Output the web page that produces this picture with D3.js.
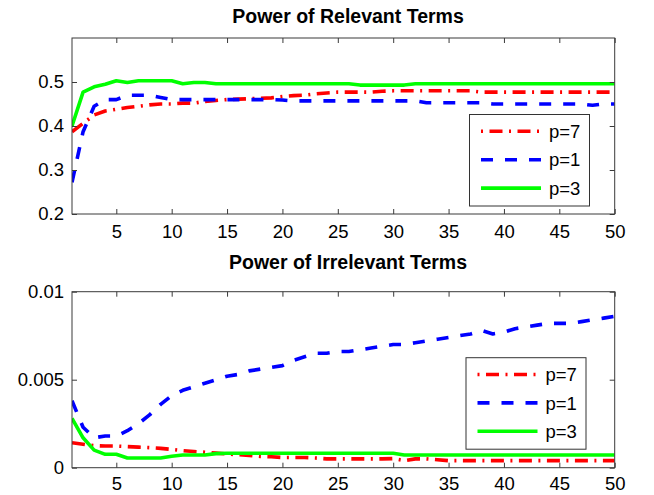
<!DOCTYPE html>
<html>
<head>
<meta charset="utf-8">
<script src="https://cdn.jsdelivr.net/npm/d3@7"></script>
<style>
  body { margin: 0; background: #fff; }
  svg { display: block; font-family: "Liberation Sans", Arial, sans-serif; }
</style>
</head>
<body>
<div id="vis"></div>
<script>
/*
Data
*/

// iteration index on the x axis
const iterations = d3.range(1, 51);

const xTicks = [5, 10, 15, 20, 25, 30, 35, 40, 45, 50];
const relevantTicks = [0.2, 0.3, 0.4, 0.5];
const irrelevantTicks = [0, 0.005, 0.01];

const seriesNames = ["p=7", "p=1", "p=3"];

// Power of relevant terms
const relevantP7 = [0.387, 0.406, 0.425, 0.434, 0.438, 0.442, 0.445, 0.448, 0.450, 0.450,
                    0.452, 0.452, 0.456, 0.458, 0.460, 0.461, 0.462, 0.463, 0.464, 0.467,
                    0.469, 0.470, 0.473, 0.475, 0.477, 0.477, 0.477, 0.477, 0.479, 0.480,
                    0.480, 0.480, 0.480, 0.480, 0.480, 0.480, 0.480, 0.477, 0.477, 0.477,
                    0.477, 0.477, 0.477, 0.477, 0.477, 0.477, 0.477, 0.477, 0.477, 0.477];
const relevantP1 = [0.272, 0.387, 0.445, 0.460, 0.460, 0.470, 0.470, 0.470, 0.465, 0.460,
                    0.460, 0.460, 0.460, 0.460, 0.460, 0.460, 0.460, 0.460, 0.460, 0.459,
                    0.457, 0.457, 0.457, 0.457, 0.457, 0.457, 0.457, 0.457, 0.457, 0.457,
                    0.457, 0.457, 0.453, 0.453, 0.453, 0.453, 0.453, 0.453, 0.450, 0.450,
                    0.450, 0.450, 0.450, 0.450, 0.450, 0.450, 0.450, 0.447, 0.450, 0.450];
const relevantP3 = [0.400, 0.477, 0.489, 0.495, 0.503, 0.499, 0.503, 0.503, 0.503, 0.503,
                    0.496, 0.499, 0.499, 0.496, 0.496, 0.496, 0.496, 0.496, 0.496, 0.496,
                    0.496, 0.496, 0.496, 0.496, 0.496, 0.496, 0.493, 0.493, 0.493, 0.493,
                    0.493, 0.496, 0.496, 0.496, 0.496, 0.496, 0.496, 0.496, 0.496, 0.496,
                    0.496, 0.496, 0.496, 0.496, 0.496, 0.496, 0.496, 0.496, 0.496, 0.496];

// Power of irrelevant terms
const irrelevantP7 = [0.00142, 0.00133, 0.00125, 0.00123, 0.00123, 0.00120, 0.00117, 0.00114, 0.00110, 0.00104,
                      0.00097, 0.00092, 0.00088, 0.00083, 0.00078, 0.00074, 0.00070, 0.00064, 0.00062, 0.00058,
                      0.00058, 0.00058, 0.00055, 0.00050, 0.00050, 0.00050, 0.00050, 0.00050, 0.00050, 0.00052,
                      0.00040, 0.00050, 0.00050, 0.00045, 0.00040, 0.00040, 0.00040, 0.00040, 0.00040, 0.00040,
                      0.00040, 0.00040, 0.00040, 0.00040, 0.00040, 0.00040, 0.00040, 0.00040, 0.00040, 0.00040];
const irrelevantP1 = [0.0038, 0.0023, 0.0017, 0.0018, 0.0018, 0.0021, 0.0025, 0.0030, 0.0036, 0.0041,
                      0.0044, 0.0046, 0.0048, 0.0050, 0.0052, 0.0053, 0.0055, 0.0056, 0.0057, 0.0058,
                      0.0061, 0.0063, 0.0065, 0.0065, 0.0066, 0.0066, 0.0067, 0.0068, 0.0069, 0.0070,
                      0.0070, 0.0071, 0.0072, 0.0073, 0.0074, 0.0075, 0.0076, 0.0078, 0.0076, 0.0077,
                      0.0079, 0.0080, 0.0081, 0.0082, 0.0082, 0.0082, 0.0083, 0.0084, 0.0085, 0.0086];
const irrelevantP3 = [0.0028, 0.0017, 0.0010, 0.00076, 0.00076, 0.00055, 0.00055, 0.00055, 0.00055, 0.00065,
                      0.00072, 0.00072, 0.00072, 0.00080, 0.00082, 0.00082, 0.00082, 0.00082, 0.00082, 0.00082,
                      0.00082, 0.00082, 0.00082, 0.00082, 0.00082, 0.00082, 0.00082, 0.00082, 0.00082, 0.00082,
                      0.00072, 0.00072, 0.00072, 0.00072, 0.00072, 0.00072, 0.00072, 0.00072, 0.00072, 0.00072,
                      0.00072, 0.00072, 0.00072, 0.00072, 0.00072, 0.00072, 0.00072, 0.00072, 0.00072, 0.00072];

/*
Size constants
*/

const WIDTH = 654;
const HEIGHT = 495;

const styles = {
    "p=7": {color: "#ff0000", dash: "13,6.5,2,6.5", legendOffset: 19.5},
    "p=1": {color: "#0000ff", dash: "12,12", legendOffset: 0},
    "p=3": {color: "#00ff00", dash: null, legendOffset: 0}
};

const svg = d3.select("#vis")
                .append("svg")
                .attr("width", WIDTH)
                .attr("height", HEIGHT);

svg.append("rect")
    .attr("width", WIDTH)
    .attr("height", HEIGHT)
    .attr("fill", "#fff");

// draws one MATLAB-like panel
function drawPanel(cfg) {
    const x = d3.scaleLinear().domain([1, 50]).range([72, 614.7]);
    const y = d3.scaleLinear().domain(cfg.yDomain).range([cfg.bottom, cfg.top]);

    const g = svg.append("g").attr("class", "panel");

    // lines, first series drawn first
    const line = d3.line()
                    .x((d, i) => x(iterations[i]))
                    .y(d => y(d));

    const clipId = "clip-" + cfg.id;
    g.append("clipPath").attr("id", clipId)
        .append("rect")
        .attr("x", x(1)).attr("y", cfg.top)
        .attr("width", x(50) - x(1)).attr("height", cfg.bottom - cfg.top);

    cfg.series.forEach((vals, k) => {
        const st = styles[seriesNames[k]];
        g.append("path")
            .attr("clip-path", `url(#${clipId})`)
            .attr("d", line(vals))
            .attr("fill", "none")
            .attr("stroke", st.color)
            .attr("stroke-width", 3.6)
            .attr("stroke-linejoin", "round")
            .attr("stroke-dasharray", st.dash);
    });

    // axes with inward ticks on all four sides
    const axisColor = "#3a3a3a";
    const bottomAxis = g.append("g")
        .attr("transform", `translate(0,${cfg.bottom})`)
        .call(d3.axisBottom(x).tickValues(xTicks).tickSizeInner(-5).tickSizeOuter(0).tickPadding(cfg.xPad));
    const topAxis = g.append("g")
        .attr("transform", `translate(0,${cfg.top})`)
        .call(d3.axisTop(x).tickValues(xTicks).tickSizeInner(-5).tickSizeOuter(0).tickFormat(""));
    const leftAxis = g.append("g")
        .attr("transform", `translate(${x(1)},0)`)
        .call(d3.axisLeft(y).tickValues(cfg.yTicks).tickSizeInner(-5).tickSizeOuter(0).tickPadding(8)
                .tickFormat(cfg.format));
    const rightAxis = g.append("g")
        .attr("transform", `translate(${x(50)},0)`)
        .call(d3.axisRight(y).tickValues(cfg.yTicks).tickSizeInner(-5).tickSizeOuter(0).tickFormat(""));

    [bottomAxis, topAxis, leftAxis, rightAxis].forEach(a => {
        a.select(".domain").remove();
        a.selectAll("line").attr("stroke", axisColor);
        a.selectAll("text")
            .attr("fill", "#000")
            .style("font-size", "18.5px")
            .style("font-family", "'Liberation Sans', Arial, sans-serif");
    });

    g.append("rect")
        .attr("x", x(1)).attr("y", cfg.top)
        .attr("width", x(50) - x(1)).attr("height", cfg.bottom - cfg.top)
        .attr("fill", "none")
        .attr("stroke", axisColor)
        .attr("stroke-width", 1);

    g.append("text")
        .attr("x", 348)
        .attr("y", cfg.titleY)
        .attr("text-anchor", "middle")
        .style("font-size", "19.5px")
        .style("font-weight", "bold")
        .text(cfg.title);

    // legend
    const lg = g.append("g").attr("transform", `translate(${cfg.legend[0]},${cfg.legend[1]})`);
    lg.append("rect")
        .attr("width", 120).attr("height", 91.5)
        .attr("fill", "#fff")
        .attr("stroke", "#333")
        .attr("stroke-width", 1);
    seriesNames.forEach((name, k) => {
        const st = styles[name];
        const ry = 16.8 + k * 28.4;
        lg.append("line")
            .attr("x1", 11.5).attr("x2", 71.5)
            .attr("y1", ry).attr("y2", ry)
            .attr("stroke", st.color)
            .attr("stroke-width", 3.6)
            .attr("stroke-dasharray", st.dash)
            .attr("stroke-dashoffset", st.legendOffset);
        lg.append("text")
            .attr("x", 79.5)
            .attr("y", ry)
            .attr("dy", "0.36em")
            .style("font-size", "18.5px")
            .text(name);
    });
}

/*
Main
*/

drawPanel({
    id: "relevant",
    title: "Power of Relevant Terms",
    titleY: 22.7,
    top: 38,
    bottom: 214,
    yDomain: [0.2, 0.6],
    yTicks: relevantTicks,
    format: d3.format(".1f"),
    xPad: 10.5,
    legend: [469.5, 114.5],
    series: [relevantP7, relevantP1, relevantP3]
});

drawPanel({
    id: "irrelevant",
    title: "Power of Irrelevant Terms",
    titleY: 268.5,
    top: 291.7,
    bottom: 467.7,
    yDomain: [0, 0.01],
    yTicks: irrelevantTicks,
    format: d => d === 0 ? "0" : String(d),
    xPad: 9.5,
    legend: [466, 357.7],
    series: [irrelevantP7, irrelevantP1, irrelevantP3]
});
</script>
</body>
</html>
